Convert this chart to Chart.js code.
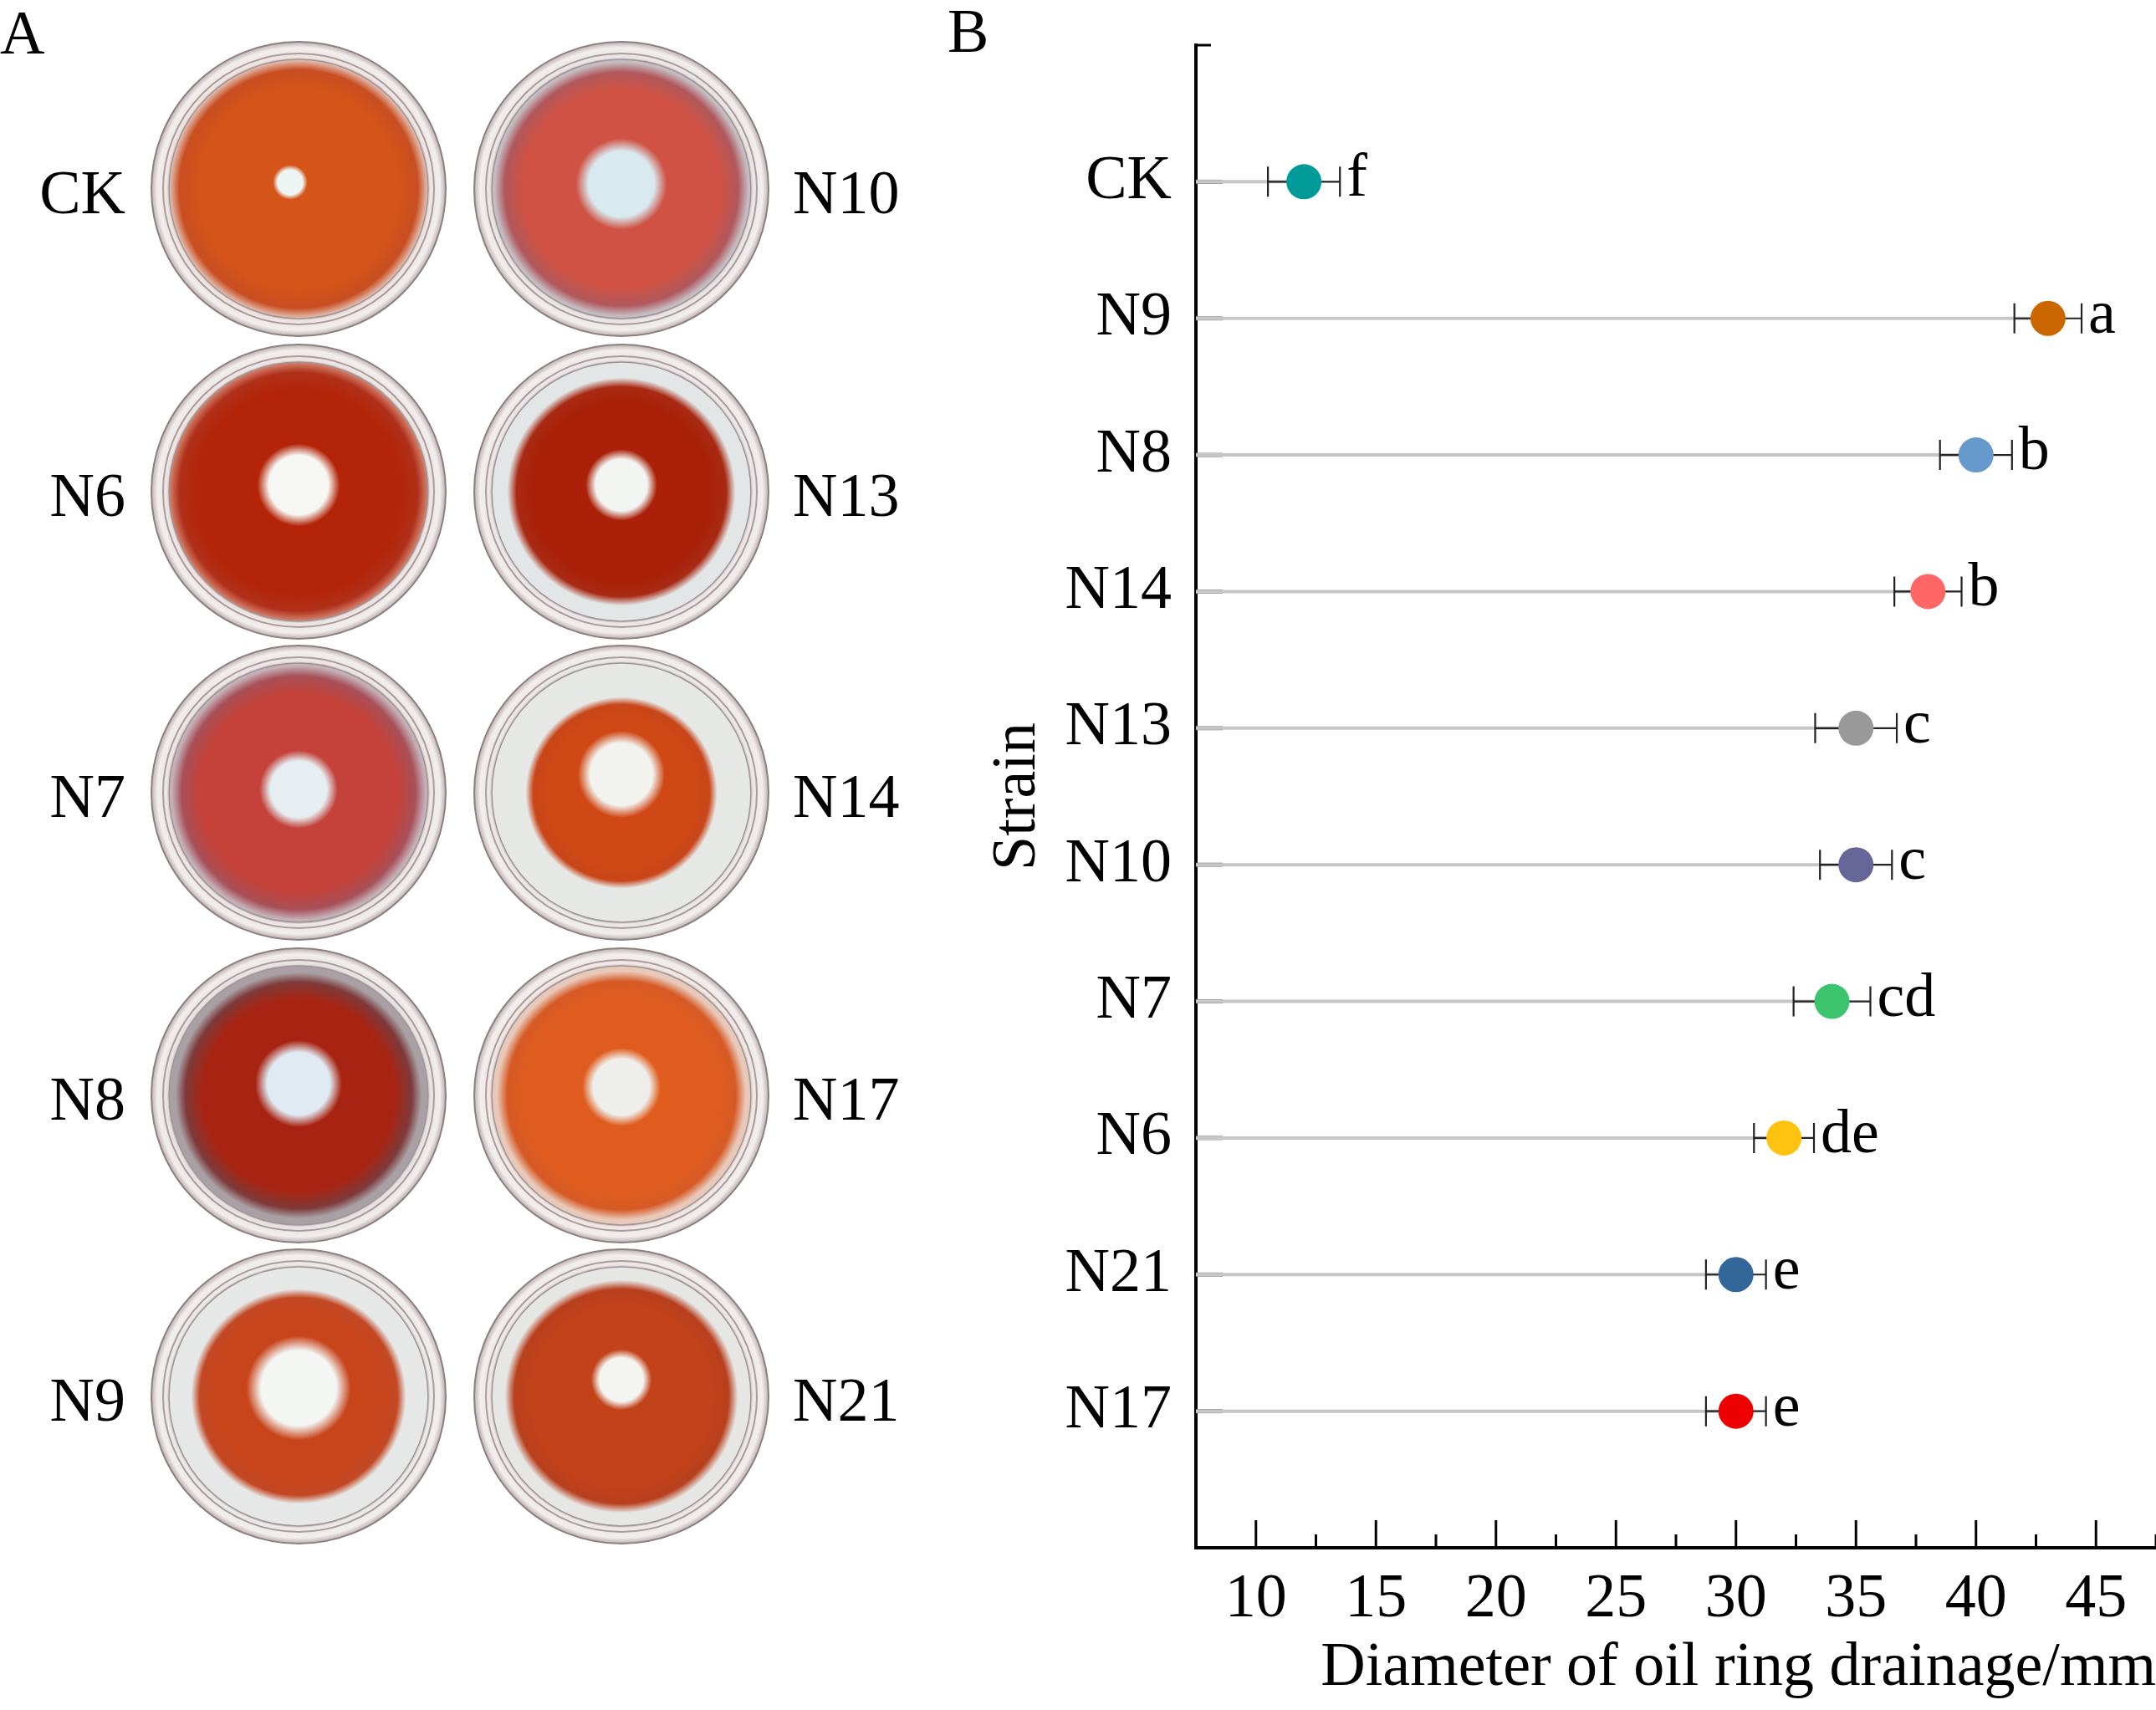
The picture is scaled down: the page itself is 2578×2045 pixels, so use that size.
<!DOCTYPE html>
<html>
<head>
<meta charset="utf-8">
<script src="https://cdn.jsdelivr.net/npm/chart.js@4.4.1/dist/chart.umd.min.js"></script>
<style>
  html, body { margin: 0; padding: 0; background: #fff; width: 2578px; height: 2045px; overflow: hidden; }
  #plates { position: absolute; left: 0; top: 0; }
  #wrap { position: absolute; left: 1100px; top: 0; width: 1478px; height: 2045px; }
</style>
</head>
<body>
<canvas id="plates" width="1100" height="2045"></canvas>
<div id="wrap"><canvas id="chart"></canvas></div>
<script>
'use strict';

// data
const strains = ['CK', 'N9', 'N8', 'N14', 'N13', 'N10', 'N7', 'N6', 'N21', 'N17'];
const diameters = [12, 43, 40, 38, 35, 35, 34, 32, 30, 30];
const errors = [1.5, 1.4, 1.5, 1.4, 1.7, 1.5, 1.6, 1.25, 1.25, 1.25];
const letters = ['f', 'a', 'b', 'b', 'c', 'c', 'cd', 'de', 'e', 'e'];
const colours = ['#009b98', '#cc6600', '#6699cc', '#ff6666', '#999999', '#666699', '#3cc36e', '#ffc20e', '#336699', '#ee0000'];
const xTicks = [10, 15, 20, 25, 30, 35, 40, 45];

// panel A plate order
const plateLeft = ['CK', 'N6', 'N7', 'N8', 'N9'];
const plateRight = ['N10', 'N13', 'N14', 'N17', 'N21'];

const FONT = '"Liberation Serif", "Times New Roman", serif';

// look of each plate photo
const plateLook = {
  CK:  { agar: '#d4541a', edge: '#c84e22', clear: '#e4c4b8', spread: 1.0,  hole: 16, holeCol: '#eef4f2', rim: '#ead2ca', dx: -10, dy: -8 },
  N10: { agar: '#cf5244', edge: '#b0585c', clear: '#c4bcc2', spread: 0.98, hole: 42, holeCol: '#d8eaf0', rim: '#dcd4d6', dx: 0, dy: -6 },
  N6:  { agar: '#b42408', edge: '#b0301a', clear: '#d48470', spread: 1.0,  hole: 38, holeCol: '#f6f6f2', rim: '#e6d2ce', dx: 0, dy: -8 },
  N13: { agar: '#aa2008', edge: '#a82a14', clear: '#e2e6e6', spread: 0.88, hole: 33, holeCol: '#f2f4f2', rim: '#dedad8', dx: 0, dy: -8 },
  N7:  { agar: '#c4423a', edge: '#a85058', clear: '#c4b0b8', spread: 0.98, hole: 36, holeCol: '#e6eef2', rim: '#e4d4d4', dx: 0, dy: -4 },
  N14: { agar: '#d04816', edge: '#c8461a', clear: '#e6e8e6', spread: 0.74, hole: 40, holeCol: '#f2f2ee', rim: '#dcdcda', dx: 0, dy: -22 },
  N8:  { agar: '#a82412', edge: '#7e3a3a', clear: '#a8a0a4', spread: 0.95, hole: 40, holeCol: '#dfeaf2', rim: '#d6cfcf', dx: 0, dy: -14 },
  N17: { agar: '#e05c1e', edge: '#d65a26', clear: '#e8c8b8', spread: 0.96, hole: 36, holeCol: '#eeeeea', rim: '#eed8d0', dx: 0, dy: -10 },
  N9:  { agar: '#c8451c', edge: '#c24824', clear: '#e6e8e8', spread: 0.83, hole: 48, holeCol: '#f4f6f4', rim: '#dedede', dx: 0, dy: -10 },
  N21: { agar: '#c2421a', edge: '#b8401e', clear: '#e6e6e4', spread: 0.9,  hole: 28, holeCol: '#f4f4f0', rim: '#e2dcda', dx: 0, dy: -20 }
};

function hexA(hex, a) {
  const n = parseInt(hex.slice(1), 16);
  return `rgba(${(n >> 16) & 255},${(n >> 8) & 255},${n & 255},${a})`;
}

function drawPlate(ctx, cx, cy, s) {
  const R = 176;
  // glass dish
  let g = ctx.createRadialGradient(cx, cy, R * 0.8, cx, cy, R);
  g.addColorStop(0, s.rim);
  g.addColorStop(0.8, '#f2eeee');
  g.addColorStop(1, '#bcb0b0');
  ctx.beginPath();
  ctx.arc(cx, cy, R, 0, 2 * Math.PI);
  ctx.fillStyle = g;
  ctx.fill();
  ctx.lineWidth = 2;
  ctx.strokeStyle = '#8d8080';
  ctx.stroke();
  [[R - 14, '#a89c9c', 2], [R - 20, '#d4cccc', 1.5]].forEach(([r, c, w]) => {
    ctx.beginPath();
    ctx.arc(cx, cy, r, 0, 2 * Math.PI);
    ctx.strokeStyle = c;
    ctx.lineWidth = w;
    ctx.stroke();
  });
  // agar bed
  const rb = R * 0.88;
  ctx.beginPath();
  ctx.arc(cx, cy, rb, 0, 2 * Math.PI);
  ctx.fillStyle = s.clear;
  ctx.fill();
  // stained oil, soft edge
  const ra = rb * s.spread;
  g = ctx.createRadialGradient(cx, cy, 0, cx, cy, ra);
  g.addColorStop(0, s.agar);
  g.addColorStop(0.78, s.agar);
  g.addColorStop(0.92, s.edge);
  g.addColorStop(1, hexA(s.edge, 0));
  ctx.beginPath();
  ctx.arc(cx, cy, Math.min(ra, rb), 0, 2 * Math.PI);
  ctx.fillStyle = g;
  ctx.fill();
  ctx.beginPath();
  ctx.arc(cx, cy, rb, 0, 2 * Math.PI);
  ctx.strokeStyle = '#a09494';
  ctx.lineWidth = 1.5;
  ctx.stroke();
  // cleared zone
  const hx = cx + s.dx, hy = cy + s.dy, hr = s.hole * 1.3;
  g = ctx.createRadialGradient(hx, hy, 0, hx, hy, hr);
  g.addColorStop(0, s.holeCol);
  g.addColorStop(0.72, s.holeCol);
  g.addColorStop(1, hexA(s.holeCol, 0));
  ctx.beginPath();
  ctx.arc(hx, hy, hr, 0, 2 * Math.PI);
  ctx.fillStyle = g;
  ctx.fill();
}

// Panel A
(function drawPanelA() {
  const ctx = document.getElementById('plates').getContext('2d');
  const rows = [226, 588, 948, 1310, 1670];
  const cols = [357, 743];
  ctx.fillStyle = '#000';
  ctx.font = `74px ${FONT}`;
  ctx.textBaseline = 'alphabetic';
  ctx.fillText('A', 0, 64);
  rows.forEach((cy, i) => {
    drawPlate(ctx, cols[0], cy, plateLook[plateLeft[i]]);
    drawPlate(ctx, cols[1], cy, plateLook[plateRight[i]]);
    ctx.fillStyle = '#000';
    ctx.font = `74px ${FONT}`;
    ctx.textBaseline = 'middle';
    ctx.textAlign = 'right';
    ctx.fillText(plateLeft[i], 150, cy + 10);
    ctx.textAlign = 'left';
    ctx.fillText(plateRight[i], 948, cy + 10);
  });
})();

// Panel B extras: stems, error bars, letters, inward ticks
const lollipop = {
  id: 'lollipop',
  beforeDatasetsDraw(chart) {
    const { ctx, scales: { x, y } } = chart;
    const x0 = x.getPixelForValue(x.min);
    ctx.save();
    diameters.forEach((d, i) => {
      const py = y.getPixelForValue(i);
      const px = x.getPixelForValue(d);
      // category tick
      ctx.strokeStyle = '#8c8c8c';
      ctx.lineWidth = 5;
      ctx.beginPath();
      ctx.moveTo(x0, py);
      ctx.lineTo(x0 + 32, py);
      ctx.stroke();
      // stem
      ctx.strokeStyle = '#c6c6c6';
      ctx.lineWidth = 4;
      ctx.beginPath();
      ctx.moveTo(x0, py);
      ctx.lineTo(px, py);
      ctx.stroke();
      // error bar
      const lo = x.getPixelForValue(d - errors[i]);
      const hi = x.getPixelForValue(d + errors[i]);
      ctx.strokeStyle = '#222';
      ctx.lineWidth = 2.2;
      ctx.beginPath();
      ctx.moveTo(lo, py);
      ctx.lineTo(hi, py);
      [lo, hi].forEach(cx => {
        ctx.moveTo(cx, py - 18);
        ctx.lineTo(cx, py + 18);
      });
      ctx.stroke();
    });
    ctx.restore();
  },
  afterDatasetsDraw(chart) {
    const { ctx, scales: { x, y } } = chart;
    ctx.save();
    ctx.fillStyle = '#000';
    ctx.font = `74px ${FONT}`;
    ctx.textAlign = 'left';
    ctx.textBaseline = 'alphabetic';
    letters.forEach((l, i) => {
      const hi = x.getPixelForValue(diameters[i] + errors[i]);
      ctx.fillText(l, hi + 8, y.getPixelForValue(i) + 17);
    });
    ctx.restore();
  },
  afterDraw(chart) {
    const { ctx, chartArea, scales: { x, y } } = chart;
    ctx.save();
    ctx.strokeStyle = '#000';
    ctx.lineWidth = 3;
    ctx.beginPath();
    xTicks.forEach(v => {
      const p = x.getPixelForValue(v);
      ctx.moveTo(p, chartArea.bottom);
      ctx.lineTo(p, chartArea.bottom - 33);
      const m = x.getPixelForValue(v + 2.5);
      ctx.moveTo(m, chartArea.bottom);
      ctx.lineTo(m, chartArea.bottom - 16);
    });
    // small cap at the top of the y axis
    const top = y.getPixelForValue(y.min);
    ctx.moveTo(chartArea.left, top);
    ctx.lineTo(chartArea.left + 18, top);
    ctx.stroke();
    ctx.fillStyle = '#000';
    ctx.font = `74px ${FONT}`;
    ctx.textBaseline = 'alphabetic';
    ctx.fillText('B', 33, 62);
    ctx.restore();
  }
};

new Chart(document.getElementById('chart'), {
  type: 'scatter',
  data: {
    datasets: [{
      data: diameters.map((d, i) => ({ x: d, y: i })),
      pointBackgroundColor: colours,
      pointBorderWidth: 0,
      pointRadius: 21,
      pointHoverRadius: 21
    }]
  },
  options: {
    responsive: true,
    maintainAspectRatio: false,
    animation: false,
    events: [],
    layout: { autoPadding: false, padding: { top: 54, left: 0, right: 0, bottom: 0 } },
    plugins: { legend: { display: false }, tooltip: { enabled: false } },
    scales: {
      x: {
        type: 'linear',
        min: 7.5,
        max: 47.5,
        afterBuildTicks: s => { s.ticks = xTicks.map(v => ({ value: v })); },
        afterFit: s => { s.height = 194; s.paddingLeft = 0; s.paddingRight = 0; },
        grid: { display: true, color: 'rgba(0,0,0,0)', drawTicks: false },
        border: { display: true, color: '#000', width: 4 },
        ticks: { padding: 18, color: '#000', font: { family: FONT, size: 74 }, maxRotation: 0, autoSkip: false },
        title: {
          display: true, text: 'Diameter of oil ring drainage/mm', align: 'end', color: '#000',
          font: { family: FONT, size: 74 }, padding: { top: 0, bottom: 5 }
        }
      },
      y: {
        type: 'linear',
        min: -1,
        max: 10,
        reverse: true,
        afterBuildTicks: s => { s.ticks = strains.map((_, i) => ({ value: i })); },
        afterFit: s => { s.width = 330; s.paddingTop = 0; s.paddingBottom = 0; },
        grid: { display: true, color: 'rgba(0,0,0,0)', drawTicks: false },
        border: { display: true, color: '#000', width: 4 },
        ticks: { padding: 29, color: '#000', font: { family: FONT, size: 74 }, autoSkip: false, callback: v => strains[v] },
        title: {
          display: true, text: 'Strain', color: '#000',
          font: { family: FONT, size: 74 }, padding: { top: 73, bottom: 0 }
        }
      }
    }
  },
  plugins: [lollipop]
});
</script>
</body>
</html>
